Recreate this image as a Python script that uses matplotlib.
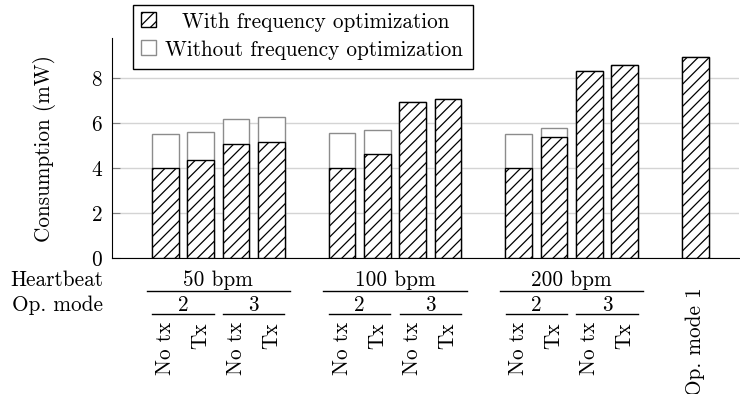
import numpy as np
import matplotlib
matplotlib.use("Agg")
from matplotlib import pyplot as plt
from matplotlib.patches import Rectangle
from matplotlib.lines import Line2D

plt.rcParams['font.family'] = ['cmr10', 'DejaVu Serif']
plt.rcParams['axes.formatter.use_mathtext'] = True
plt.rcParams['hatch.linewidth'] = 0.9

# datos
heartbeats = ["50 bpm", "100 bpm", "200 bpm"]
op_modes = ["2", "3"]
tx_labels = ["No tx", "Tx", "No tx", "Tx",
             "No tx", "Tx", "No tx", "Tx",
             "No tx", "Tx", "No tx", "Tx",
             "Op. mode 1"]
con_opt = [4.0, 4.36, 5.05, 5.14,
           4.0, 4.64, 6.93, 7.08,
           4.0, 5.38, 8.31, 8.56,
           8.92]
sin_opt = [5.52, 5.59, 6.19, 6.25,
           5.56, 5.67, 6.93, 7.08,
           5.52, 5.76, 8.31, 8.56,
           8.92]

# posiciones: 4 barras por grupo, un hueco entre grupos
pos = np.array([0, 1, 2, 3, 5, 6, 7, 8, 10, 11, 12, 13, 15])
ancho = 0.755
fs = 15.3

fig = plt.figure(figsize=(7.4, 3.94), dpi=100)
ax = fig.add_axes([0.1518, 0.3452, 0.8475, 0.5576])

ax.bar(pos, sin_opt, ancho, color="white", edgecolor="#8c8c8c", lw=1, zorder=2)
ax.bar(pos, con_opt, ancho, color="white", edgecolor="black", hatch="///", lw=1, zorder=3)

ax.set_xlim(-1.5, 16.25)
ax.set_ylim(0, 9.76)
ax.set_yticks([0, 2, 4, 6, 8])
ax.grid(axis="y", color="#d4d4d4", lw=1, zorder=0)
ax.spines["top"].set_visible(False)
ax.spines["right"].set_visible(False)
ax.tick_params(axis="y", direction="in", length=6, color="#7f7f7f", labelsize=fs, pad=7)
ax.tick_params(axis="x", direction="in", length=5, color="#b0b0b0", labelsize=fs, pad=46)
ax.set_xticks(pos[:-1])
ax.set_xticklabels(tx_labels[:-1], rotation=90, va="top")
ax.set_ylabel("Consumption (mW)", fontsize=fs, labelpad=25)

trans = ax.get_xaxis_transform()
ax.text(15, -0.131, tx_labels[-1], transform=trans, rotation=90,
        ha="center", va="top", fontsize=fs)
ax.plot([15, 15], [0, 0.02], transform=trans, color="#b0b0b0", lw=1, clip_on=False)

# etiquetas jerarquicas debajo del eje
for i, hb in enumerate(heartbeats):
    x0 = pos[4 * i]
    x3 = pos[4 * i + 3]
    ax.text((x0 + x3) / 2, -0.103, hb, transform=trans, ha="center", va="center", fontsize=fs)
    ax.add_line(Line2D([x0 - 0.53, x3 + 0.53], [-0.149, -0.149], transform=trans,
                       color="black", lw=1, clip_on=False))
    for j, om in enumerate(op_modes):
        a = pos[4 * i + 2 * j]
        b = pos[4 * i + 2 * j + 1]
        ax.text((a + b) / 2, -0.214, om, transform=trans, ha="center", va="center", fontsize=fs)
        ax.add_line(Line2D([a - 0.37, b + 0.37], [-0.256, -0.256], transform=trans,
                           color="black", lw=1, clip_on=False))

fig.text(103 / 740, 1 - 280.7 / 394, "Heartbeat", ha="right", va="center", fontsize=fs)
fig.text(103 / 740, 1 - 305 / 394, "Op. mode", ha="right", va="center", fontsize=fs)

# leyenda dibujada a mano
W, H = 740, 394
fig.patches.append(Rectangle((132.5 / W, 1 - 69.3 / H), (472.7 - 132.5) / W, (69.3 - 4.7) / H,
                             transform=fig.transFigure, facecolor="white",
                             edgecolor="black", lw=1, zorder=5))
fig.patches.append(Rectangle((140.7 / W, 1 - 27.3 / H), 15.5 / W, 15.5 / H,
                             transform=fig.transFigure, facecolor="white",
                             edgecolor="black", hatch="///", lw=1, zorder=6))
fig.patches.append(Rectangle((140.7 / W, 1 - 55 / H), 15.5 / W, 15.5 / H,
                             transform=fig.transFigure, facecolor="white",
                             edgecolor="#8c8c8c", lw=1, zorder=6))
fig.text(181.7 / W, 1 - 22 / H, "With frequency optimization", ha="left", va="center",
         fontsize=fs, zorder=7)
fig.text(165 / W, 1 - 50.5 / H, "Without frequency optimization", ha="left", va="center",
         fontsize=fs, zorder=7)

fig.savefig("out.png", dpi=100)
